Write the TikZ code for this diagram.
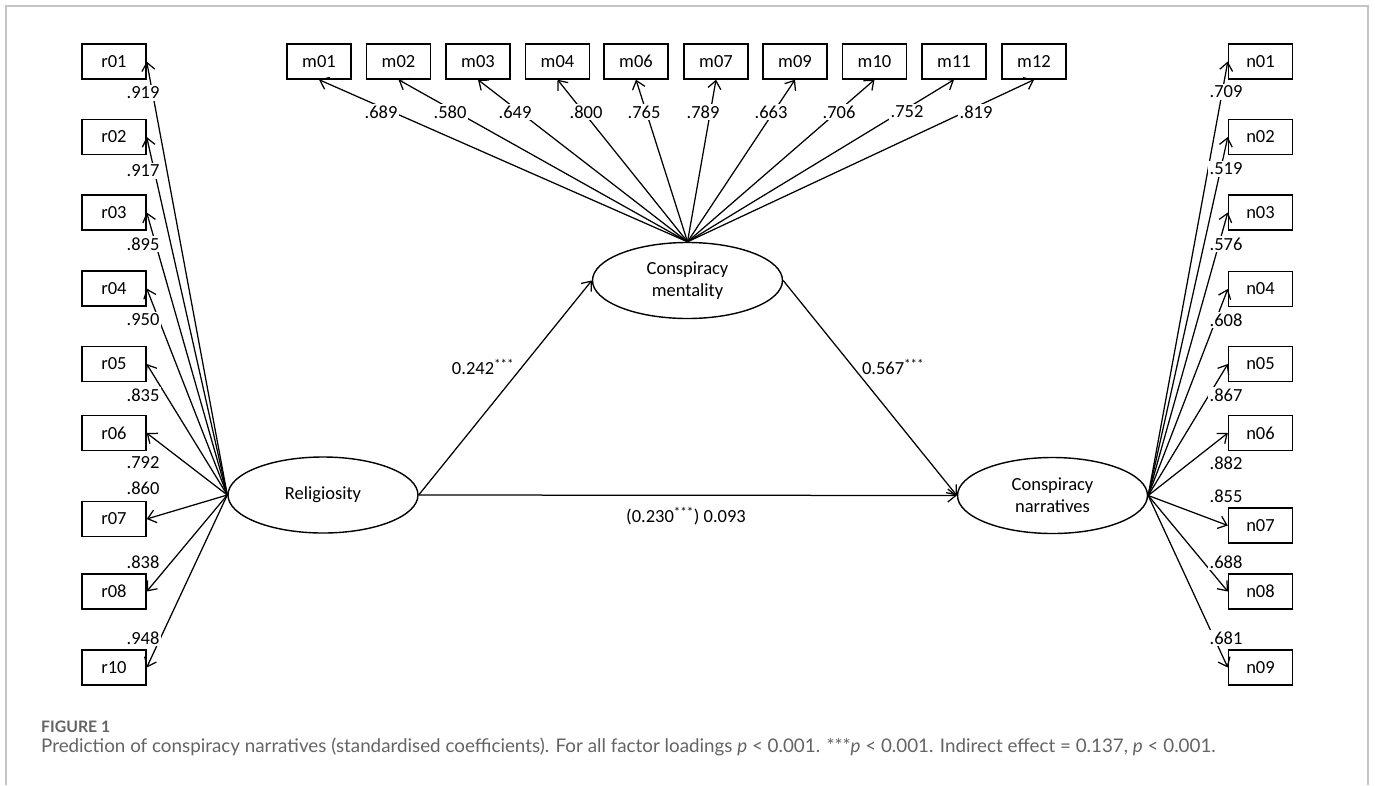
\documentclass[tikz,border=0pt]{standalone}
\usepackage{fontspec}
\setmainfont{Carlito}
\newfontfamily\capfont{Lato}
\usetikzlibrary{arrows.meta,shapes.geometric}
\definecolor{framegray}{HTML}{C4C4C4}
\definecolor{capgray}{HTML}{646464}
\tikzset{
  obs/.style={draw, line width=1.4pt, minimum width=64pt, minimum height=35pt, inner sep=0pt,
    font=\fontsize{18.5}{20}\selectfont},
  lat/.style={draw, ellipse, line width=1.4pt, minimum width=190pt, minimum height=76pt, inner sep=0pt,
    align=center, font=\fontsize{18.5}{22}\selectfont},
  load/.style={line width=1.25pt, -{Straight Barb[length=8pt,width=13pt,line width=1.25pt]}},
  path/.style={line width=1.25pt, -{Straight Barb[length=8pt,width=13pt,line width=1.25pt]}},
  lab/.style={fill=white, inner sep=1.5pt, font=\fontsize{18.5}{20}\selectfont},
  plab/.style={inner sep=1pt, font=\fontsize{18.5}{20}\selectfont},
}
\begin{document}
\begin{tikzpicture}[x=1pt,y=-1pt]
\useasboundingbox (0,0) rectangle (1375,785);
\fill[white] (0,0) rectangle (1375,785);
\draw[framegray, line width=1.6pt] (6,785) -- (6,6) -- (1368,6) -- (1368,785);

% latent variables
\node[lat] (rel) at (323,495) {Religiosity};
\node[lat] (ment) at (687.5,280.5) {Conspiracy\\mentality};
\node[lat] (narr) at (1052.5,495.5) {Conspiracy\\narratives};

% religiosity indicators
\foreach \i/\y in {01/61.5,02/137,03/212.5,04/288.5,05/364,06/433,07/519,08/591.5,10/667.5}{
  \node[obs] (r\i) at (114,\y) {r\i};
  \draw[load] (rel.west) -- (r\i.east);
}
% mentality indicators
\foreach \i/\x in {01/319,02/398.5,03/478,04/557.5,06/636,07/716,09/795,10/874.5,11/954,12/1034}{
  \node[obs] (m\i) at (\x,61.5) {m\i};
  \draw[load] (ment.north) -- (m\i.south);
}
% narrative indicators
\foreach \i/\y in {01/61.5,02/137,03/212.5,04/289,05/364,06/433,07/525.5,08/591.5,09/667.5}{
  \node[obs] (n\i) at (1260.5,\y) {n\i};
  \draw[load] (narr.east) -- (n\i.west);
}

% loading labels
\foreach \i/\y/\v in {01/93/.919,02/171/.917,03/244/.895,04/320/.950,05/395/.835,06/463/.792,07/488/.860,08/562/.838,10/638/.948}{
  \node[lab] (lr\i) at (143,\y) {\v};
}
\foreach \i/\x/\v in {01/381/.689,02/450/.580,03/515/.649,04/586/.800,06/644/.765,07/703/.789,09/771/.663,10/839/.706,11/907/.752,12/976/.819}{
  \node[lab] (lm\i) at (\x,112) {\v};
}
\foreach \i/\y/\v in {01/92/.709,02/169/.519,03/244/.576,04/320/.608,05/395/.867,06/463/.882,07/496/.855,08/562/.688,09/638/.681}{
  \node[lab] (ln\i) at (1226,\y) {\v};
}

% structural paths
\draw[path] (rel.east) -- (ment.west);
\draw[path] (ment.east) -- (narr.west);
\draw[path] (rel.east) -- (narr.west);
\node[plab] (p1) at (483,367) {0.242\textsuperscript{***}};
\node[plab] (p2) at (893,367) {0.567\textsuperscript{***}};
\node[plab] (p3) at (686,516) {(0.230\textsuperscript{***}) 0.093};

% caption
\node[anchor=west, inner sep=0pt, text=capgray, font=\capfont\bfseries\fontsize{15.8}{17}\selectfont] (figlab) at (41,727) {FIGURE 1};
\node[anchor=west, inner sep=0pt, text=capgray, font=\capfont\fontsize{18.8}{21}\selectfont] (cap) at (41,747)
  {Prediction of conspiracy narratives (standardised coefficients). For all factor loadings \textit{p} < 0.001. ***\textit{p} < 0.001. Indirect effect = 0.137, \textit{p} < 0.001.};
\end{tikzpicture}
\end{document}
